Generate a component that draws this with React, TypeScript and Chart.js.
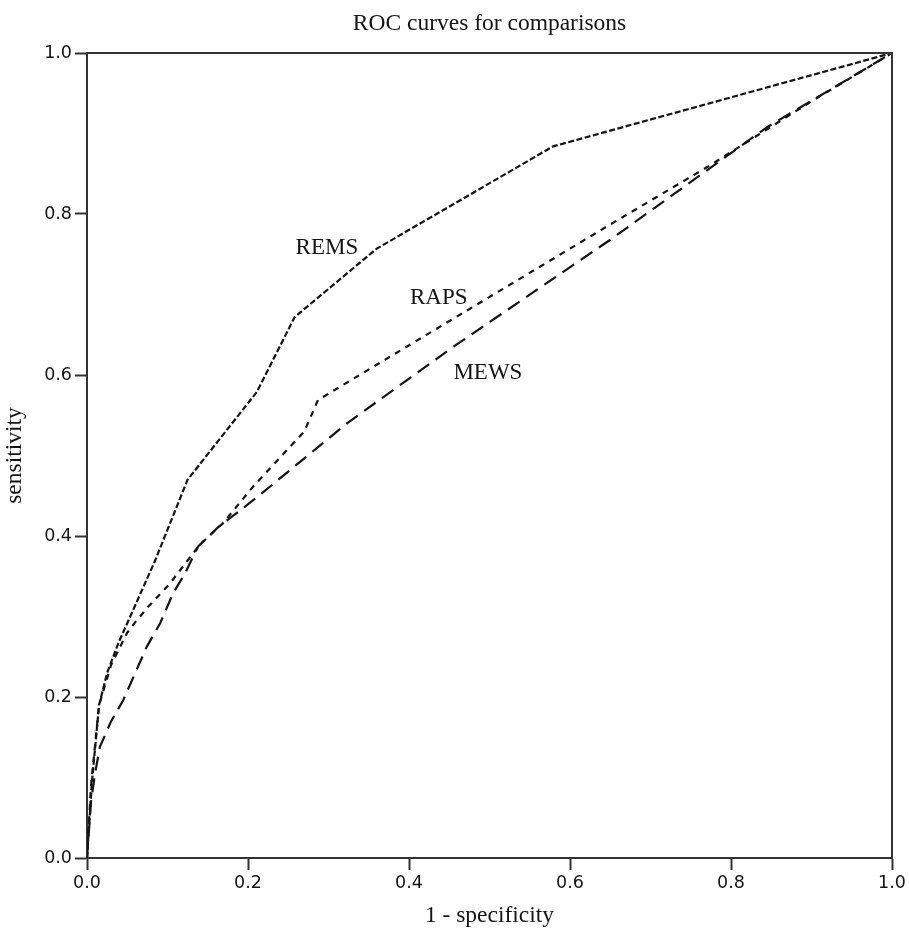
import React, { useEffect, useRef } from "react";
import { Chart, registerables } from "chart.js";

Chart.register(...registerables);

// ---- data (1 - specificity, sensitivity) ----
const remsX = [0, 0.006, 0.015, 0.025, 0.039, 0.084, 0.125, 0.211, 0.258, 0.36, 0.579, 1];
const remsY = [0, 0.093, 0.19, 0.23, 0.267, 0.368, 0.47, 0.579, 0.672, 0.757, 0.884, 1];

const rapsX = [0, 0.005, 0.015, 0.03, 0.05, 0.06, 0.076, 0.103, 0.14, 0.169, 0.206, 0.27, 0.287, 0.65, 0.77, 0.9, 1];
const rapsY = [0, 0.09, 0.19, 0.24, 0.28, 0.293, 0.312, 0.341, 0.389, 0.416, 0.461, 0.53, 0.569, 0.787, 0.858, 0.94, 1];

const mewsX = [0, 0.005, 0.01, 0.016, 0.03, 0.045, 0.074, 0.091, 0.107, 0.122, 0.138, 0.163, 0.188, 0.217, 0.323, 0.455, 0.65, 0.845, 1];
const mewsY = [0, 0.07, 0.105, 0.138, 0.17, 0.196, 0.262, 0.292, 0.329, 0.354, 0.387, 0.411, 0.43, 0.453, 0.54, 0.635, 0.768, 0.908, 1];

const seriesNames = ["REMS", "RAPS", "MEWS"];
const labelX = [0.298, 0.437, 0.498];
const labelY = [0.758, 0.696, 0.603];

const xTicks = [0, 0.2, 0.4, 0.6, 0.8, 1.0];
const yTicks = [0, 0.2, 0.4, 0.6, 0.8, 1.0];

const titleText = "ROC curves for comparisons";
const xTitle = "1 - specificity";
const yTitle = "sensitivity";

const SERIF = '"Liberation Serif", "Times New Roman", serif';
const SANS = '"DejaVu Sans", sans-serif';
const INK = "#141414";

function toPoints(xs: number[], ys: number[]) {
  return xs.map((x, i) => ({ x, y: ys[i] }));
}

const framePlugin = {
  id: "frame",
  afterDatasetsDraw(chart: any) {
    const { ctx, chartArea } = chart;
    ctx.save();
    ctx.strokeStyle = "#333";
    ctx.lineWidth = 2;
    ctx.beginPath();
    ctx.moveTo(chartArea.left, chartArea.top);
    ctx.lineTo(chartArea.right, chartArea.top);
    ctx.lineTo(chartArea.right, chartArea.bottom);
    ctx.stroke();
    ctx.restore();
  },
};

const labelPlugin = {
  id: "seriesLabels",
  afterDatasetsDraw(chart: any) {
    const { ctx, scales } = chart;
    ctx.save();
    ctx.fillStyle = INK;
    ctx.font = `23px ${SERIF}`;
    ctx.textAlign = "center";
    ctx.textBaseline = "middle";
    seriesNames.forEach((name, i) => {
      ctx.fillText(name, scales.x.getPixelForValue(labelX[i]), scales.y.getPixelForValue(labelY[i]));
    });
    ctx.restore();
  },
};

export default function App() {
  const ref = useRef<HTMLCanvasElement | null>(null);

  useEffect(() => {
    if (!ref.current) return;
    const mk = (label: string, xs: number[], ys: number[], dash: number[]) => ({
      label,
      data: toPoints(xs, ys),
      showLine: true,
      borderColor: INK,
      backgroundColor: INK,
      borderWidth: 2.2,
      borderDash: dash,
      pointRadius: 0,
      tension: 0,
      fill: false,
    });
    const chart = new Chart(ref.current, {
      type: "scatter",
      data: {
        datasets: [
          mk(seriesNames[0], remsX, remsY, [6, 2.5]),
          mk(seriesNames[1], rapsX, rapsY, [6, 6]),
          mk(seriesNames[2], mewsX, mewsY, [14, 8]),
        ],
      },
      options: {
        animation: false,
        responsive: false,
        devicePixelRatio: 1,
        layout: { padding: { left: 0, right: 17, top: 0, bottom: 0 } },
        plugins: {
          legend: { display: false },
          tooltip: { enabled: false },
          title: {
            display: true,
            text: titleText,
            fullSize: false,
            color: INK,
            font: { family: SERIF, size: 23.5, weight: "normal" },
            padding: { top: 10, bottom: 14.8 },
          },
        },
        scales: {
          x: {
            type: "linear",
            min: 0,
            max: 1,
            afterBuildTicks: (s: any) => {
              s.ticks = xTicks.map((v) => ({ value: v }));
            },
            afterFit: (s: any) => {
              s.height = 72;
            },
            ticks: {
              color: INK,
              font: { family: SANS, size: 17.5 },
              padding: 3,
              maxRotation: 0,
              callback: (v: any) => Number(v).toFixed(1),
            },
            grid: {
              drawOnChartArea: false,
              drawTicks: true,
              tickLength: 12,
              tickWidth: 2,
              tickColor: "#333",
              color: "#333",
            },
            border: { display: true, width: 2, color: "#333" },
            title: {
              display: true,
              text: xTitle,
              color: INK,
              font: { family: SERIF, size: 23.5 },
              padding: { top: 0, bottom: 0 },
            },
          },
          y: {
            type: "linear",
            min: 0,
            max: 1,
            afterBuildTicks: (s: any) => {
              s.ticks = yTicks.map((v) => ({ value: v }));
            },
            afterFit: (s: any) => {
              s.width = 87;
            },
            ticks: {
              color: INK,
              font: { family: SANS, size: 17.5 },
              padding: 3,
              callback: (v: any) => Number(v).toFixed(1),
            },
            grid: {
              drawOnChartArea: false,
              drawTicks: true,
              tickLength: 12,
              tickWidth: 2,
              tickColor: "#333",
              color: "#333",
            },
            border: { display: true, width: 2, color: "#333" },
            title: {
              display: true,
              text: yTitle,
              color: INK,
              font: { family: SERIF, size: 23.5 },
              padding: { top: 1, bottom: 0 },
            },
          },
        },
      },
      plugins: [framePlugin, labelPlugin],
    } as any);
    return () => chart.destroy();
  }, []);

  return (
    <div style={{ position: "absolute", left: 0, top: 0, width: 909, height: 930, background: "#fff" }}>
      <canvas ref={ref} width={909} height={930} style={{ display: "block" }} />
    </div>
  );
}
